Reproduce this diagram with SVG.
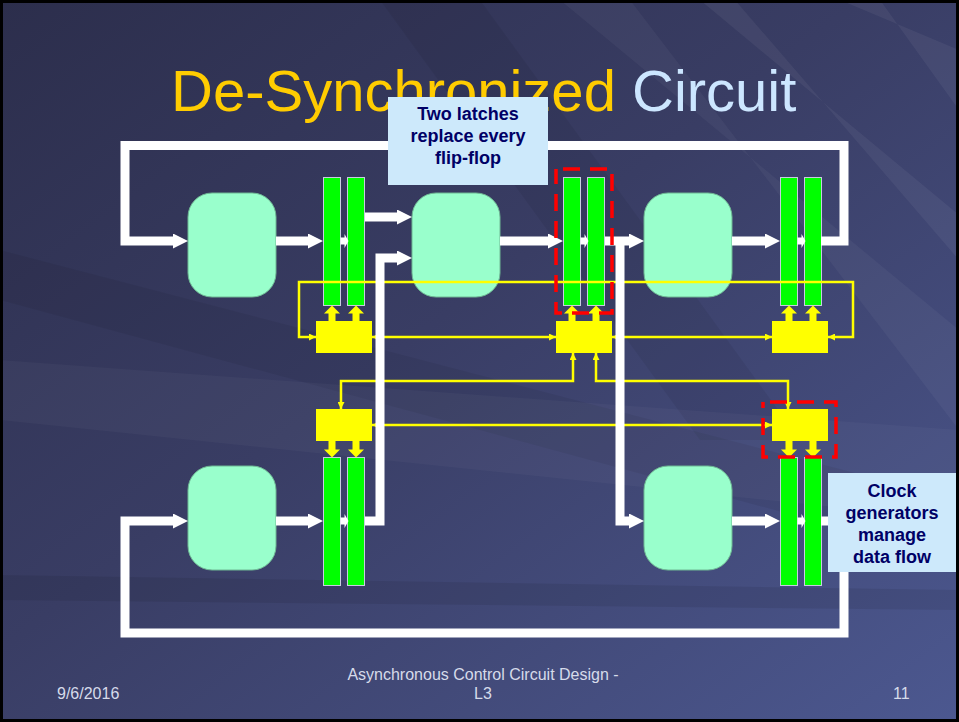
<svg xmlns="http://www.w3.org/2000/svg" width="959" height="722" viewBox="0 0 959 722">
<defs>
<linearGradient id="bg" x1="0" y1="0" x2="1" y2="1">
<stop offset="0" stop-color="#2c2e4c"/>
<stop offset="0.45" stop-color="#393d64"/>
<stop offset="1" stop-color="#4c5890"/>
</linearGradient>
<marker id="wh" viewBox="0 0 10 10" refX="0" refY="5" markerWidth="15" markerHeight="15" markerUnits="userSpaceOnUse" orient="auto">
<path d="M0,0 L10,5 L0,10 z" fill="#ffffff"/>
</marker>
<marker id="ya" viewBox="0 0 10 10" refX="10" refY="5" markerWidth="7" markerHeight="7" markerUnits="userSpaceOnUse" orient="auto-start-reverse">
<path d="M0,0 L10,5 L0,10 z" fill="#ffff00"/>
</marker>
<polygon id="bigArrow" points="0,0 8,8 3.5,8 3.5,16.5 -3.5,16.5 -3.5,8 -8,8" fill="#ffff00"/>
<polygon id="tinyArrow" points="0,-3.5 4,-3.5 4,-7 8,0 4,7 4,3.5 0,3.5" fill="#ffffff"/>
</defs>
<style>
.blk{fill:#99ffcc;stroke:#6fb894;stroke-width:1}
.lat{fill:#00ff00;stroke:#c8cce0;stroke-width:1}
.ctl{fill:#ffff00}
.wl{fill:none;stroke:#ffffff;stroke-width:9;stroke-linejoin:miter}
.yl{fill:none;stroke:#ffff00;stroke-width:2.5;marker-start:url(#ya);marker-end:url(#ya)}
.note{fill:#cde9fb}
.nt{font-family:"Liberation Sans",Arial,sans-serif;font-weight:bold;font-size:18px;fill:#000066;text-anchor:middle}
.red{fill:none;stroke:#ff0000;stroke-width:3.5;stroke-dasharray:17 10;stroke-dashoffset:20}
.ft{font-family:"Liberation Sans",Arial,sans-serif;font-size:16px;fill:#d6dbea}
</style>
<rect x="0" y="0" width="959" height="722" fill="url(#bg)"/>
<g id="background-streaks">
<polygon points="560,0 630,0 959,430 959,330" fill="#ffffff" opacity="0.04"/>
<polygon points="700,0 735,0 959,260 959,215" fill="#ffffff" opacity="0.05"/>
<polygon points="840,0 880,0 959,110 959,50" fill="#ffffff" opacity="0.05"/>
<polygon points="380,0 480,0 800,440 700,440" fill="#000000" opacity="0.06"/>
<polygon points="0,250 0,300 959,560 959,500" fill="#000000" opacity="0.06"/>
<polygon points="0,360 0,420 959,520 959,430" fill="#ffffff" opacity="0.03"/>
<polygon points="0,575 0,600 959,610 959,590" fill="#000000" opacity="0.08"/>
</g>
<rect x="1.5" y="1.5" width="956" height="719" fill="none" stroke="#000000" stroke-width="3"/>
<g id="title">
<text x="171" y="111" font-family="'Liberation Sans',Arial,sans-serif" font-size="58"><tspan fill="#ffcc00">De-Synchronized</tspan><tspan fill="#cce6ff"> Circuit</tspan></text>
</g>
<g id="logic-blocks">
<g id="block-top-left"><rect class="blk" x="188" y="193" width="88" height="104" rx="24"/></g>
<g id="block-top-middle"><rect class="blk" x="412" y="193" width="88" height="104" rx="24"/></g>
<g id="block-top-right"><rect class="blk" x="644" y="193" width="88" height="104" rx="24"/></g>
<g id="block-bottom-left"><rect class="blk" x="188" y="466" width="88" height="104" rx="24"/></g>
<g id="block-bottom-right"><rect class="blk" x="644" y="466" width="88" height="104" rx="24"/></g>
</g>
<g id="latches">
<g id="latch-top-left"><rect class="lat" x="323.5" y="177.5" width="17" height="128"/><rect class="lat" x="347.5" y="177.5" width="17" height="128"/></g>
<g id="latch-top-middle"><rect class="lat" x="563.5" y="177.5" width="17" height="128"/><rect class="lat" x="587.5" y="177.5" width="17" height="128"/></g>
<g id="latch-top-right"><rect class="lat" x="780.5" y="177.5" width="17" height="128"/><rect class="lat" x="804.5" y="177.5" width="17" height="128"/></g>
<g id="latch-bottom-left"><rect class="lat" x="323.5" y="457.5" width="17" height="128"/><rect class="lat" x="347.5" y="457.5" width="17" height="128"/></g>
<g id="latch-bottom-right"><rect class="lat" x="780.5" y="457.5" width="17" height="128"/><rect class="lat" x="804.5" y="457.5" width="17" height="128"/></g>
</g>
<g id="connectors">
<g id="handshake-lines">
<path class="yl" d="M828,337 H853 V282 H299 V337 H316"/>
<path class="yl" d="M372,337 H556"/>
<path class="yl" d="M612,337 H772"/>
<path class="yl" d="M341,409 V381 H573 V353"/>
<path class="yl" d="M596,353 V381 H788 V409"/>
<path class="yl" d="M372,425 H772"/>
</g>
<g id="data-lines">
<path class="wl" marker-end="url(#wh)" d="M821,241 H844 V145.5 H125 V241 H173"/>
<path class="wl" marker-end="url(#wh)" d="M276,241 H308"/>
<path class="wl" marker-end="url(#wh)" d="M365,217 H397"/>
<path class="wl" marker-end="url(#wh)" d="M365,521 H380 V258 H397"/>
<path class="wl" marker-end="url(#wh)" d="M500,241 H548"/>
<path class="wl" marker-end="url(#wh)" d="M605,241 H629"/>
<path class="wl" marker-end="url(#wh)" d="M620,241 V521 H629"/>
<path class="wl" marker-end="url(#wh)" d="M732,241 H765"/>
<path class="wl" marker-end="url(#wh)" d="M821,521 H844 V633 H125 V521 H173"/>
<path class="wl" marker-end="url(#wh)" d="M276,521 H308"/>
<path class="wl" marker-end="url(#wh)" d="M732,521 H765"/>
<use href="#tinyArrow" x="340.5" y="241"/>
<use href="#tinyArrow" x="580.5" y="241"/>
<use href="#tinyArrow" x="797.5" y="241"/>
<use href="#tinyArrow" x="340.5" y="521"/>
<use href="#tinyArrow" x="797.5" y="521"/>
</g>
</g>
<g id="clock-generators">
<g id="ctl-top-left"><rect class="ctl" x="316" y="321" width="56" height="32"/><use href="#bigArrow" x="332" y="305.5"/><use href="#bigArrow" x="356" y="305.5"/></g>
<g id="ctl-top-middle"><rect class="ctl" x="556" y="321" width="56" height="32"/><use href="#bigArrow" x="572" y="305.5"/><use href="#bigArrow" x="596" y="305.5"/></g>
<g id="ctl-top-right"><rect class="ctl" x="772" y="321" width="56" height="32"/><use href="#bigArrow" x="789" y="305.5"/><use href="#bigArrow" x="813" y="305.5"/></g>
<g id="ctl-bottom-left"><rect class="ctl" x="316" y="409" width="56" height="32"/><use href="#bigArrow" transform="translate(332,457.5) scale(1,-1)"/><use href="#bigArrow" transform="translate(356,457.5) scale(1,-1)"/></g>
<g id="ctl-bottom-right"><rect class="ctl" x="772" y="409" width="56" height="32"/><use href="#bigArrow" transform="translate(789,457.5) scale(1,-1)"/><use href="#bigArrow" transform="translate(813,457.5) scale(1,-1)"/></g>
</g>
<g id="note-latches">
<rect class="note" x="388" y="97" width="160" height="88"/>
<text class="nt" x="468" y="120">Two latches</text>
<text class="nt" x="468" y="142">replace every</text>
<text class="nt" x="468" y="164">flip-flop</text>
</g>
<g id="note-clock">
<rect class="note" x="828" y="473" width="128" height="99"/>
<text class="nt" x="892" y="497">Clock</text>
<text class="nt" x="892" y="519">generators</text>
<text class="nt" x="892" y="541">manage</text>
<text class="nt" x="892" y="563">data flow</text>
</g>
<g id="highlights">
<rect class="red" x="556" y="169" width="56" height="144"/>
<rect class="red" x="763" y="402" width="73" height="55"/>
</g>
<g id="footer">
<text class="ft" x="57" y="699">9/6/2016</text>
<text class="ft" x="483" y="680" text-anchor="middle">Asynchronous Control Circuit Design -</text>
<text class="ft" x="483" y="699" text-anchor="middle">L3</text>
<text class="ft" x="893" y="699">11</text>
</g>
</svg>
